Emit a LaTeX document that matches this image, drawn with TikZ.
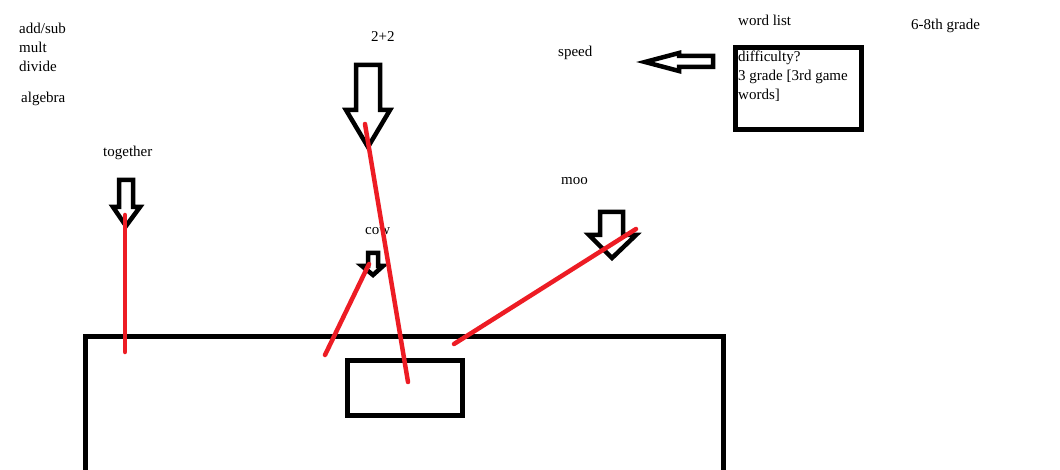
\documentclass[tikz,border=0pt]{standalone}
\usepackage{fontspec}
\setmainfont{Liberation Serif}
\usepackage{xcolor}
\usepackage{tikz}
\usetikzlibrary{arrows}
\definecolor{paintred}{RGB}{237,28,36}
\tikzset{
  word/.style={anchor=base west,inner sep=0pt,font=\fontsize{15}{19}\selectfont},
  blockarrow/.style={draw=black,line width=4.5pt,fill=white,line join=miter},
  redline/.style={draw=paintred,line width=4.5pt,line cap=round},
  frame/.style={draw=black,line width=5pt,inner sep=0pt}
}
\begin{document}
\begin{tikzpicture}[x=1pt,y=-1pt]
  \useasboundingbox (0,0) rectangle (1060,470);

  \draw (19,34) node[word] (addsub) {add/sub};
  \draw (19,53) node[word] (mult) {mult};
  \draw (19,72) node[word] (divide) {divide};
  \draw (21,103) node[word] (algebra) {algebra};
  \draw (371,42) node[word] (twoplustwo) {2+2};
  \draw (103,157) node[word] (together) {together};
  \draw (365,235) node[word] (cow) {cow};
  \draw (561,185) node[word] (moo) {moo};
  \draw (738,26) node[word] (wordlist) {word list};
  \draw (911,30) node[word] (grade) {6-8th grade};
  \draw (558,57) node[word] (speed) {speed};

  \draw (798.25,88.75) node[frame,minimum width=125.5pt,minimum height=82.5pt] (wordbox) {};
  \draw (738,62) node[word] (difficulty) {difficulty?};
  \draw (738,81) node[word] (thirdgrade) {3 grade [3rd game};
  \draw (738,100) node[word] (words) {words]};

  \draw[frame] (85,475) -- (85,336) -- (723,336) -- (723,475);
  \draw (404.5,387.5) node[frame,minimum width=115pt,minimum height=55pt] (screen) {};

  \draw[blockarrow] (356,65) -- (380,65) -- (380,110) -- (390,110) -- (368,147) -- (346,110) -- (356,110) -- cycle;
  \draw[blockarrow] (119,180) -- (133,180) -- (133,207) -- (140,207) -- (126,226) -- (113,207) -- (119,207) -- cycle;
  \draw[blockarrow] (368,253) -- (378,253) -- (378,266) -- (383,266) -- (373,275) -- (362,266) -- (368,266) -- cycle;
  \draw[blockarrow] (600,212) -- (623,212) -- (623,235) -- (636,235) -- (612,258) -- (589,235) -- (600,235) -- cycle;
  \draw[blockarrow] (713,56) -- (713,67) -- (679,67) -- (679,71) -- (645,62) -- (679,53) -- (679,56) -- cycle;

  \coordinate (togethertip) at (125,215);
  \coordinate (togetherend) at (125,352);
  \coordinate (twotip) at (365,124);
  \coordinate (twoend) at (408,382);
  \coordinate (cowtip) at (369,264);
  \coordinate (cowend) at (325,355);
  \coordinate (mootip) at (636,229);
  \coordinate (mooend) at (454,344);

  \path[redline] (togethertip) edge (togetherend);
  \path[redline] (twotip) edge (twoend);
  \path[redline] (cowtip) edge (cowend);
  \path[redline] (mootip) edge (mooend);
\end{tikzpicture}
\end{document}
